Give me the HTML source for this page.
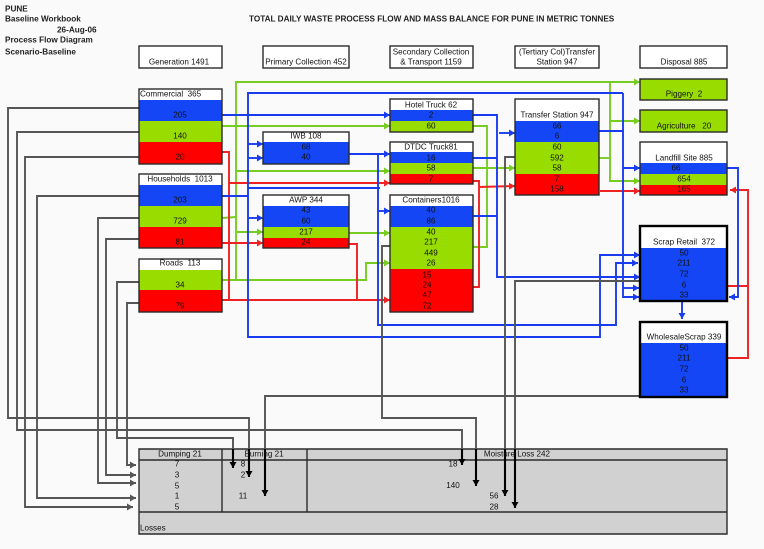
<!DOCTYPE html>
<html><head><meta charset="utf-8"><style>
html,body{margin:0;padding:0;background:#fafafa}
svg{display:block;filter:blur(.35px)}
text{font-family:"Liberation Sans",sans-serif;font-size:8.1px;fill:#111;text-anchor:middle;dominant-baseline:central}
.b{font-weight:bold;font-size:8.2px;text-anchor:start;fill:#222}
.l{text-anchor:start}
.bx{fill:none;stroke:#2a2a2a;stroke-width:1.4}
.tk{fill:none;stroke:#000;stroke-width:2.4}
.G,.B,.R,.K{fill:none;stroke-width:1.9}
.D{fill:none;stroke-width:2.1}
.G{stroke:#77cc22}.B{stroke:#1a3cf0}.R{stroke:#ee2222}.K{stroke:#555}.D{stroke:#000}
</style></head><body>
<svg width="764" height="549" viewBox="0 0 764 549" xmlns="http://www.w3.org/2000/svg">
<defs>
<marker id="g" markerUnits="userSpaceOnUse" markerWidth="7" markerHeight="7" refX="6" refY="3.5" orient="auto"><path d="M0 0L6 3.5L0 7z" fill="#77cc22"/></marker>
<marker id="u" markerUnits="userSpaceOnUse" markerWidth="7" markerHeight="7" refX="6" refY="3.5" orient="auto"><path d="M0 0L6 3.5L0 7z" fill="#1a3cf0"/></marker>
<marker id="r" markerUnits="userSpaceOnUse" markerWidth="7" markerHeight="7" refX="6" refY="3.5" orient="auto"><path d="M0 0L6 3.5L0 7z" fill="#ee2222"/></marker>
<marker id="k" markerUnits="userSpaceOnUse" markerWidth="7" markerHeight="7" refX="6" refY="3.5" orient="auto"><path d="M0 0L6 3.5L0 7z" fill="#555"/></marker>
<marker id="d" markerUnits="userSpaceOnUse" markerWidth="7" markerHeight="7" refX="6" refY="3.5" orient="auto"><path d="M0 0L6 3.5L0 7z" fill="#000"/></marker>
</defs>

<!-- losses table -->
<rect x="139" y="449" width="588" height="85" fill="#d1d1d1"/>
<path class="bx" d="M139 449H727V534H139zM139 460H727M139 512H727M222 449V512M307 449V512"/>

<!-- green connectors -->
<polyline class="G" marker-end="url(#g)" points="236,280 236,82 640,82"/>
<polyline class="G" marker-end="url(#g)" points="222,126 390,126"/>
<polyline class="G" marker-end="url(#g)" points="236,171 390,171"/>
<polyline class="G" points="222,218 236,217"/>
<polyline class="G" marker-end="url(#g)" points="235,232 263,232"/>
<polyline class="G" marker-end="url(#g)" points="349,233 390,233"/>
<polyline class="G" marker-end="url(#g)" points="222,280 366,280 366,263 390,263"/>
<polyline class="G" points="473,126 487,126 487,247 473,247"/>
<polyline class="G" marker-end="url(#g)" points="473,168 515,168"/>
<polyline class="G" points="599,158 610,158"/>
<polyline class="G" marker-end="url(#g)" points="610,82 610,181 640,181"/>
<polyline class="G" marker-end="url(#g)" points="610,121 640,121"/>

<!-- red connectors -->
<polyline class="R" points="222,152 229,152 229,300"/>
<polyline class="R" marker-end="url(#r)" points="229,183 390,183"/>
<polyline class="R" marker-end="url(#r)" points="222,243 263,243"/>
<polyline class="R" marker-end="url(#r)" points="222,300 390,300"/>
<polyline class="R" points="349,244 357,244 357,300"/>
<polyline class="R" points="473,181 479,181 479,287 473,287"/>
<polyline class="R" marker-end="url(#r)" points="479,187 515,186"/>
<polyline class="R" marker-end="url(#r)" points="600,191 640,191"/>
<polyline class="R" marker-end="url(#r)" points="727,286 748,286 748,190 730,190"/>
<polyline class="R" points="727,358 748,358 748,286"/>

<!-- blue connectors -->
<polyline class="B" marker-end="url(#u)" points="623,93 248,93 248,337 600,337 600,255 640,255"/>
<polyline class="B" marker-end="url(#u)" points="222,115 390,115"/>
<polyline class="B" marker-end="url(#u)" points="248,144 263,144"/>
<polyline class="B" marker-end="url(#u)" points="248,158 263,158"/>
<polyline class="B" marker-end="url(#u)" points="248,218 263,218"/>
<polyline class="B" points="222,196 248,196"/>
<polyline class="B" points="248,188 380,188"/>
<polyline class="B" marker-end="url(#u)" points="349,154 390,154"/>
<polyline class="B" marker-end="url(#u)" points="378,154 378,325 616,325 616,263 638,263"/>
<polyline class="B" marker-end="url(#u)" points="378,211 390,211"/>
<polyline class="B" marker-end="url(#u)" points="473,115 497,115 497,277 640,277"/>
<polyline class="B" points="473,158 497,158"/>
<polyline class="B" points="473,216 497,216"/>
<polyline class="B" marker-end="url(#u)" points="499,133 515,133"/>
<polyline class="B" points="599,131 623,131"/>
<polyline class="B" marker-end="url(#u)" points="623,93 623,297 639,297"/>
<polyline class="B" marker-end="url(#u)" points="623,168 640,168"/>
<polyline class="B" marker-end="url(#u)" points="623,288 639,288"/>
<polyline class="B" marker-end="url(#u)" points="727,168 738,168 738,297 729,297"/>
<polyline class="B" marker-end="url(#u)" points="682,301 682,319"/>

<!-- gray connectors -->
<polyline class="K" points="139,108 8,108 8,418 249,418 249,449"/>
<polyline class="K" points="139,132 17,132 17,430 462,430 462,449"/>
<polyline class="K" marker-end="url(#k)" points="139,157 25,157 25,507 133,507"/>
<polyline class="K" marker-end="url(#k)" points="139,196 37,196 37,498 136,498"/>
<polyline class="K" marker-end="url(#k)" points="139,218 98,218 98,483 136,483"/>
<polyline class="K" marker-end="url(#k)" points="139,239 106,239 106,475 136,475"/>
<polyline class="K" points="139,282 117,282 117,438 233,438 233,449"/>
<polyline class="K" marker-end="url(#k)" points="139,303 127,303 127,465 136,465"/>
<polyline class="K" points="640,396 265,396 265,449"/>
<polyline class="K" points="640,281 515,281 515,449"/>
<polyline class="K" points="515,157 505,157 505,449"/>
<polyline class="K" points="390,246 382,246 382,418 476,418 476,449"/>
<polyline class="D" marker-end="url(#d)" points="233,449 233,468"/>
<polyline class="D" marker-end="url(#d)" points="249,449 249,477"/>
<polyline class="D" marker-end="url(#d)" points="265,449 265,496"/>
<polyline class="D" marker-end="url(#d)" points="462,449 462,465"/>
<polyline class="D" marker-end="url(#d)" points="476,449 476,486"/>
<polyline class="D" marker-end="url(#d)" points="505,449 505,496"/>
<polyline class="D" marker-end="url(#d)" points="515,449 515,508"/>

<!-- column headers -->
<rect class="bx" x="139" y="46" width="83" height="22" style="fill:#fff"/>
<rect class="bx" x="263" y="46" width="86" height="22" style="fill:#fff"/>
<rect class="bx" x="390" y="46" width="83" height="22" style="fill:#fff"/>
<rect class="bx" x="515" y="46" width="84" height="22" style="fill:#fff"/>
<rect class="bx" x="640" y="46" width="87" height="22" style="fill:#fff"/>

<!-- source boxes -->
<g shape-rendering="crispEdges">
<rect x="139" y="89" width="83" height="11" fill="#fff"/><rect x="139" y="100" width="83" height="21" fill="#1446f5"/><rect x="139" y="121" width="83" height="21" fill="#99dd00"/><rect x="139" y="142" width="83" height="22" fill="#f00"/>
<rect x="139" y="174" width="83" height="11" fill="#fff"/><rect x="139" y="185" width="83" height="21" fill="#1446f5"/><rect x="139" y="206" width="83" height="21" fill="#99dd00"/><rect x="139" y="227" width="83" height="21" fill="#f00"/>
<rect x="139" y="259" width="83" height="11" fill="#fff"/><rect x="139" y="270" width="83" height="20" fill="#99dd00"/><rect x="139" y="290" width="83" height="22" fill="#f00"/>
<rect x="263" y="132" width="86" height="10" fill="#fff"/><rect x="263" y="142" width="86" height="22" fill="#1446f5"/>
<rect x="263" y="195" width="86" height="11" fill="#fff"/><rect x="263" y="206" width="86" height="21" fill="#1446f5"/><rect x="263" y="227" width="86" height="11" fill="#99dd00"/><rect x="263" y="238" width="86" height="10" fill="#f00"/>
<rect x="390" y="99" width="83" height="11" fill="#fff"/><rect x="390" y="110" width="83" height="11" fill="#1446f5"/><rect x="390" y="121" width="83" height="11" fill="#99dd00"/>
<rect x="390" y="142" width="83" height="10" fill="#fff"/><rect x="390" y="152" width="83" height="11" fill="#1446f5"/><rect x="390" y="163" width="83" height="11" fill="#99dd00"/><rect x="390" y="174" width="83" height="10" fill="#f00"/>
<rect x="390" y="195" width="83" height="11" fill="#fff"/><rect x="390" y="206" width="83" height="21" fill="#1446f5"/><rect x="390" y="227" width="83" height="42" fill="#99dd00"/><rect x="390" y="269" width="83" height="43" fill="#f00"/>
<rect x="515" y="99" width="84" height="22" fill="#fff"/><rect x="515" y="121" width="84" height="21" fill="#1446f5"/><rect x="515" y="142" width="84" height="32" fill="#99dd00"/><rect x="515" y="174" width="84" height="21" fill="#f00"/>
<rect x="640" y="79" width="87" height="21" fill="#99dd00"/><rect x="640" y="110" width="87" height="22" fill="#99dd00"/>
<rect x="640" y="142" width="87" height="21" fill="#fff"/><rect x="640" y="163" width="87" height="11" fill="#1446f5"/><rect x="640" y="174" width="87" height="11" fill="#99dd00"/><rect x="640" y="185" width="87" height="10" fill="#f00"/>
<rect x="640" y="226" width="87" height="22" fill="#fff"/><rect x="640" y="248" width="87" height="53" fill="#1446f5"/>
<rect x="640" y="322" width="87" height="21" fill="#fff"/><rect x="640" y="343" width="87" height="54" fill="#1446f5"/>
</g>
<rect class="bx" x="139" y="89" width="83" height="75"/><rect class="bx" x="139" y="174" width="83" height="74"/><rect class="bx" x="139" y="259" width="83" height="53"/>
<rect class="bx" x="263" y="132" width="86" height="32"/><rect class="bx" x="263" y="195" width="86" height="53"/>
<rect class="bx" x="390" y="99" width="83" height="33"/><rect class="bx" x="390" y="142" width="83" height="42"/><rect class="bx" x="390" y="195" width="83" height="117"/>
<rect class="bx" x="515" y="99" width="84" height="96"/>
<rect class="bx" x="640" y="79" width="87" height="21"/><rect class="bx" x="640" y="110" width="87" height="22"/><rect class="bx" x="640" y="142" width="87" height="53"/>
<rect class="tk" x="640" y="226" width="87" height="75"/><rect class="tk" x="640" y="322" width="87" height="75"/>

<!-- page header text -->
<text class="b" x="5" y="9">PUNE</text>
<text class="b" x="5" y="19">Baseline Workbook</text>
<text class="b" x="57" y="30">26-Aug-06</text>
<text class="b" x="5" y="40">Process Flow Diagram</text>
<text class="b" x="5" y="52">Scenario-Baseline</text>
<text class="b" x="249" y="19">TOTAL DAILY WASTE PROCESS FLOW AND MASS BALANCE FOR PUNE IN METRIC TONNES</text>

<text x="179" y="62">Generation 1491</text>
<text x="306" y="62">Primary Collection 452</text>
<text x="431" y="52">Secondary Collection</text><text x="431" y="62">&amp; Transport 1159</text>
<text x="557" y="52">(Tertiary Col)Transfer</text><text x="557" y="62">Station 947</text>
<text x="684" y="62">Disposal 885</text>

<text class="l" x="140" y="94">Commercial&#160;&#160;365</text>
<text x="180" y="115">205</text><text x="180" y="136">140</text><text x="180" y="157">20</text>
<text x="180" y="179">Households&#160;&#160;1013</text>
<text x="180" y="200">203</text><text x="180" y="221">729</text><text x="180" y="242">81</text>
<text x="180" y="263">Roads&#160;&#160;113</text>
<text x="180" y="285">34</text><text x="180" y="306">79</text>

<text x="306" y="136">IWB 108</text><text x="306" y="147">68</text><text x="306" y="157">40</text>
<text x="306" y="200">AWP 344</text><text x="306" y="210">43</text><text x="306" y="221">60</text><text x="306" y="232">217</text><text x="306" y="242">24</text>

<text x="431" y="105">Hotel Truck 62</text><text x="431" y="115">2</text><text x="431" y="126">60</text>
<text x="431" y="147">DTDC Truck81</text><text x="431" y="158">16</text><text x="431" y="168">58</text><text x="431" y="179">7</text>
<text x="431" y="200">Containers1016</text><text x="431" y="210">40</text><text x="431" y="221">86</text><text x="431" y="232">40</text><text x="431" y="242">217</text><text x="431" y="253">449</text><text x="431" y="263">26</text>
<text x="427" y="275">15</text><text x="427" y="285">24</text><text x="427" y="295">47</text><text x="427" y="306">72</text>

<text x="557" y="115">Transfer Station 947</text><text x="557" y="126">66</text><text x="557" y="136">6</text><text x="557" y="147">60</text><text x="557" y="158">592</text><text x="557" y="168">58</text><text x="557" y="179">7</text><text x="557" y="189">158</text>

<text x="684" y="94">Piggery&#160;&#160;2</text>
<text x="684" y="126">Agriculture&#160;&#160;&#160;20</text>
<text x="684" y="158">Landfill Site 885</text><text x="676" y="168">66</text><text x="684" y="179">654</text><text x="684" y="189">165</text>
<text x="684" y="242">Scrap Retail&#160;&#160;372</text><text x="684" y="253">50</text><text x="684" y="263">211</text><text x="684" y="274">72</text><text x="684" y="285">6</text><text x="684" y="295">33</text>
<text x="684" y="337">WholesaleScrap 339</text><text x="684" y="348">50</text><text x="684" y="358">211</text><text x="684" y="369">72</text><text x="684" y="380">6</text><text x="684" y="390">33</text>

<text x="180" y="454">Dumping 21</text><text x="264" y="454">Burning 21</text><text x="517" y="454">Moisture Loss 242</text>
<text x="177" y="464">7</text><text x="177" y="475">3</text><text x="177" y="486">5</text><text x="177" y="496">1</text><text x="177" y="507">5</text>
<text x="243" y="464">8</text><text x="243" y="475">2</text><text x="243" y="496">11</text>
<text x="453" y="464">18</text><text x="453" y="485.5">140</text><text x="494" y="496">56</text><text x="494" y="507">28</text>
<text class="l" x="140" y="528">Losses</text>
</svg>
</body></html>
